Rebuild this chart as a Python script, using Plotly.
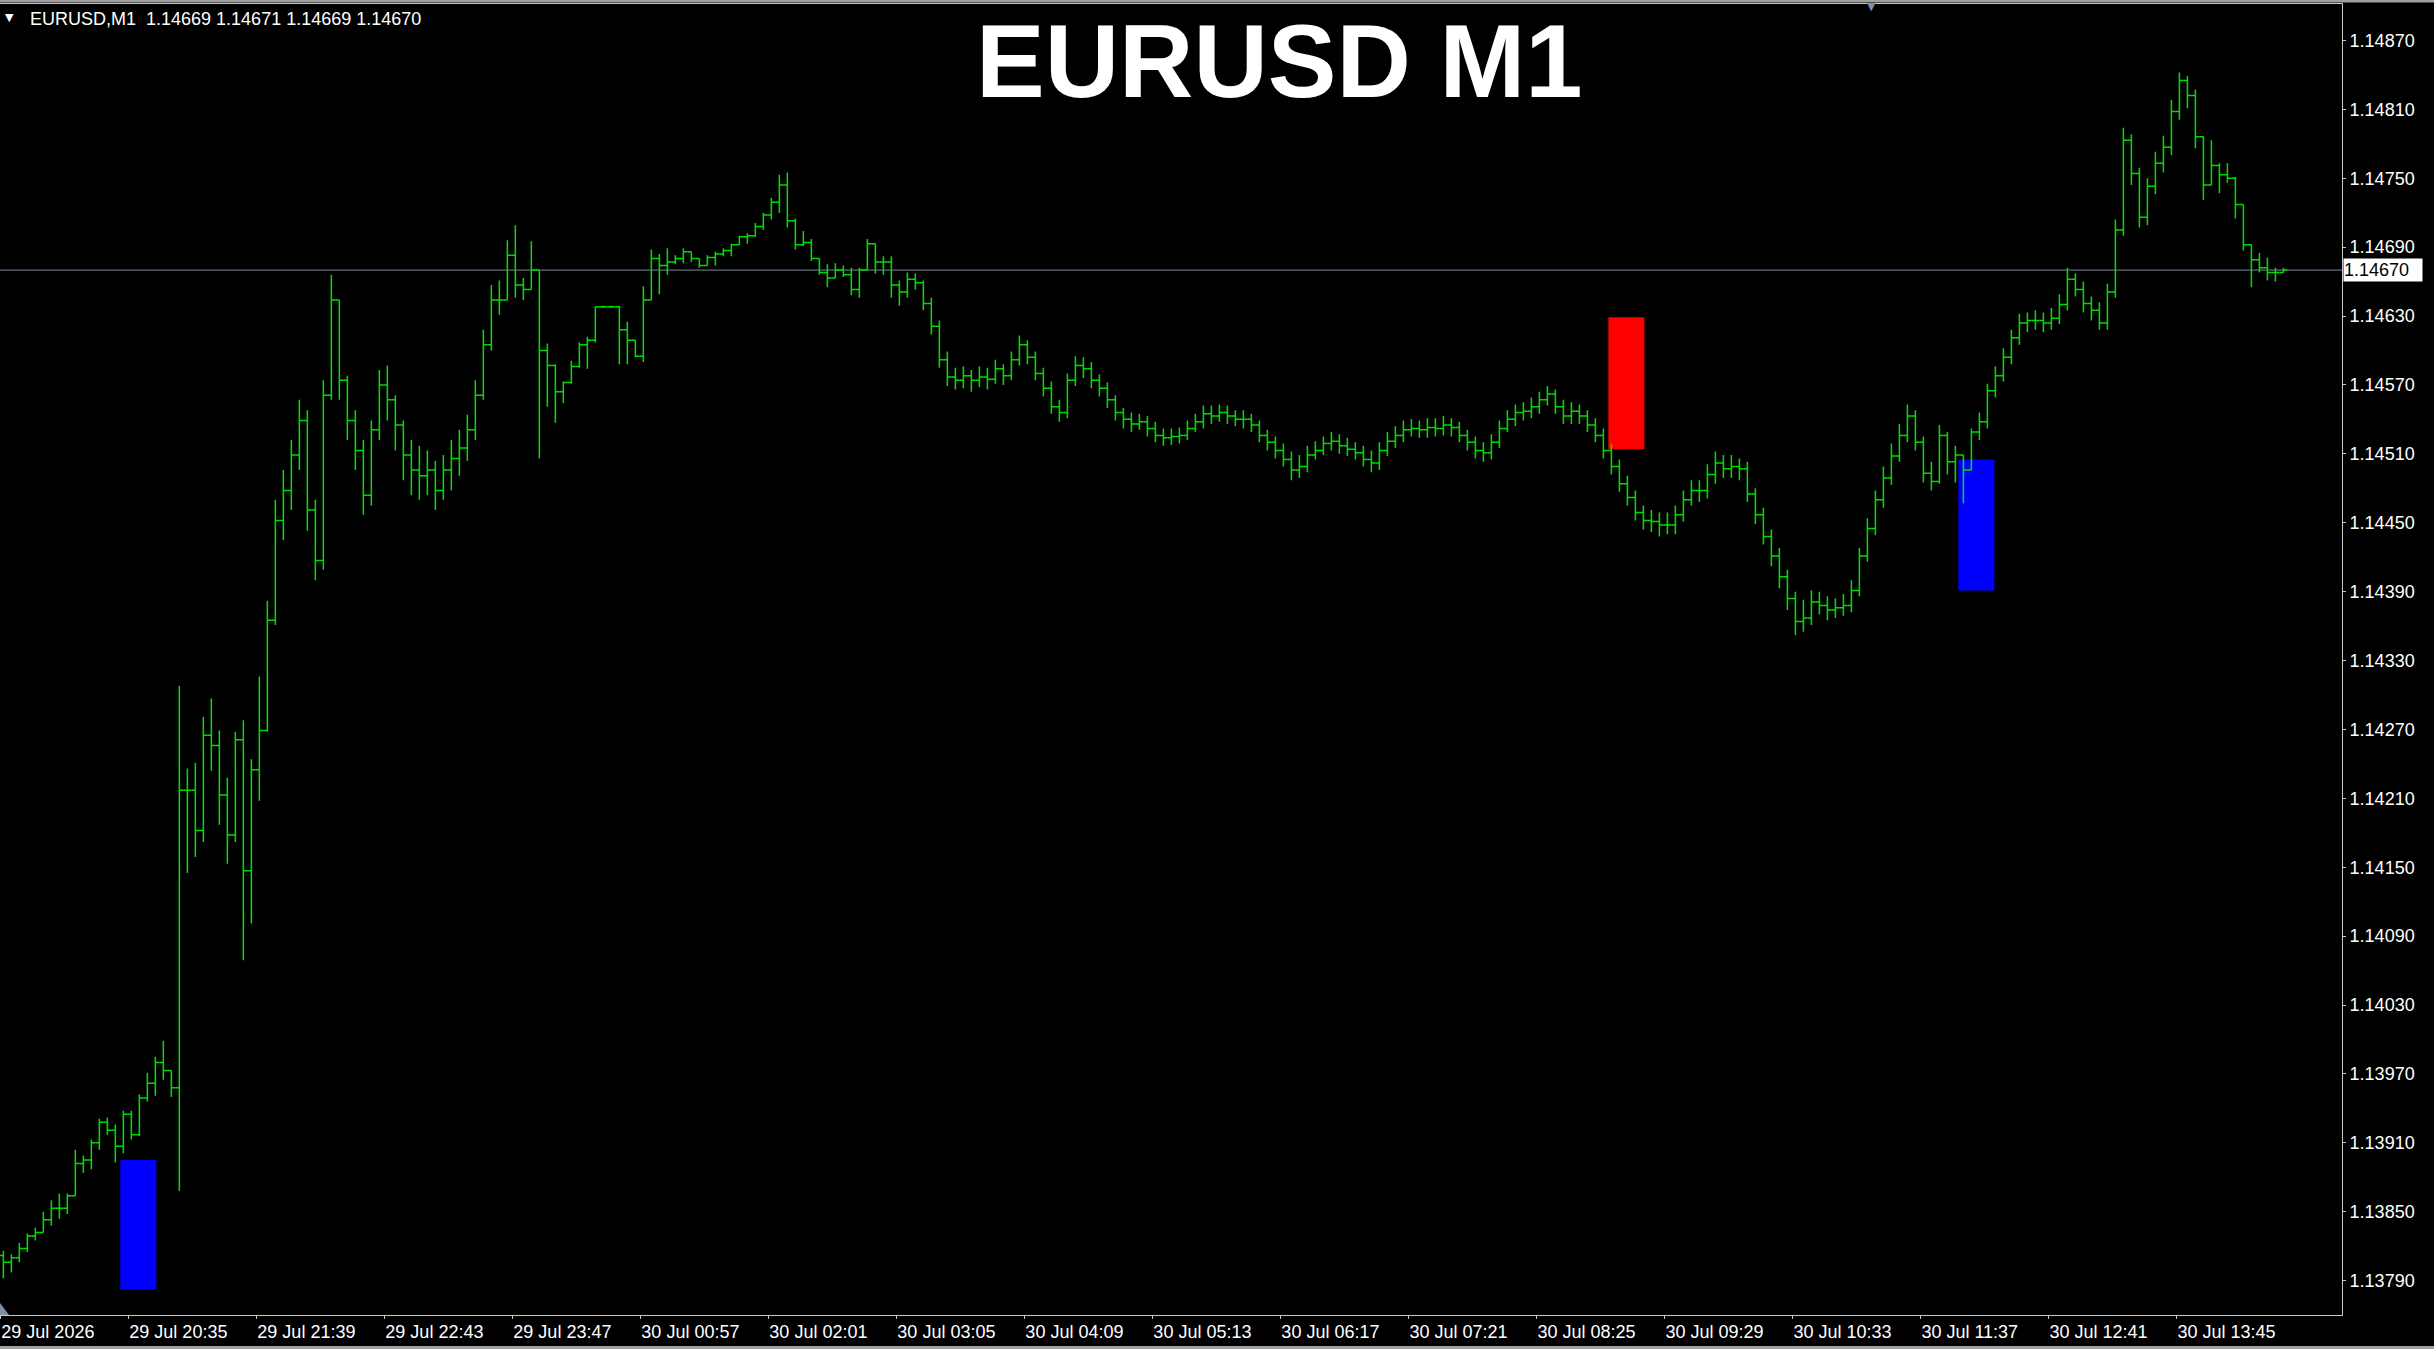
import plotly.graph_objects as go

# ---------------- data ----------------
symbol = "EURUSD"
timeframe = "M1"
header_ohlc = ["1.14669", "1.14671", "1.14669", "1.14670"]
last_price = 1.14670
bar_minutes = 4          # each plotted bar aggregates 4 one-minute bars
first_open = 1.13812

close_prices = [
    1.13806, 1.13810, 1.13818, 1.13829, 1.13832, 1.13843, 1.13853, 1.13853, 1.13864, 1.13892,
    1.13895, 1.13910, 1.13928, 1.13921, 1.13907, 1.13935, 1.13917, 1.13949, 1.13962, 1.13980,
    1.13973, 1.13958, 1.14217, 1.14217, 1.14182, 1.14265, 1.14256, 1.14213, 1.14178, 1.14261,
    1.14147, 1.14235, 1.14269, 1.14365, 1.14452, 1.14478, 1.14509, 1.14539, 1.14461, 1.14417,
    1.14561, 1.14644, 1.14574, 1.14539, 1.14513, 1.14474, 1.14531, 1.14570, 1.14557, 1.14535,
    1.14509, 1.14496, 1.14491, 1.14496, 1.14478, 1.14496, 1.14506, 1.14515, 1.14531, 1.14561,
    1.14605, 1.14644, 1.14644, 1.14683, 1.14657, 1.14653, 1.14670, 1.14600, 1.14587, 1.14564,
    1.14572, 1.14586, 1.14605, 1.14609, 1.14638, 1.14638, 1.14638, 1.14618, 1.14609, 1.14595,
    1.14644, 1.14680, 1.14674, 1.14677, 1.14680, 1.14686, 1.14680, 1.14674, 1.14681, 1.14684,
    1.14687, 1.14692, 1.14699, 1.14700, 1.14708, 1.14718, 1.14729, 1.14744, 1.14713, 1.14692,
    1.14694, 1.14680, 1.14668, 1.14663, 1.14670, 1.14666, 1.14653, 1.14670, 1.14693, 1.14677,
    1.14677, 1.14657, 1.14651, 1.14662, 1.14659, 1.14641, 1.14621, 1.14592, 1.14577, 1.14574,
    1.14578, 1.14574, 1.14577, 1.14575, 1.14584, 1.14578, 1.14592, 1.14605, 1.14594, 1.14580,
    1.14567, 1.14551, 1.14546, 1.14574, 1.14587, 1.14584, 1.14574, 1.14567, 1.14557, 1.14546,
    1.14540, 1.14536, 1.14538, 1.14532, 1.14526, 1.14524, 1.14525, 1.14526, 1.14532, 1.14538,
    1.14545, 1.14543, 1.14546, 1.14543, 1.14540, 1.14540, 1.14535, 1.14526, 1.14520, 1.14513,
    1.14505, 1.14496, 1.14499, 1.14509, 1.14513, 1.14519, 1.14521, 1.14517, 1.14514, 1.14511,
    1.14505, 1.14502, 1.14513, 1.14521, 1.14526, 1.14531, 1.14532, 1.14531, 1.14533, 1.14532,
    1.14535, 1.14533, 1.14526, 1.14520, 1.14513, 1.14511, 1.14520, 1.14532, 1.14540, 1.14546,
    1.14547, 1.14551, 1.14557, 1.14562, 1.14551, 1.14543, 1.14547, 1.14543, 1.14535, 1.14526,
    1.14513, 1.14499, 1.14484, 1.14472, 1.14459, 1.14452, 1.14451, 1.14448, 1.14448, 1.14457,
    1.14470, 1.14478, 1.14478, 1.14492, 1.14502, 1.14497, 1.14499, 1.14497, 1.14475, 1.14457,
    1.14438, 1.14421, 1.14403, 1.14384, 1.14364, 1.14367, 1.14381, 1.14378, 1.14374, 1.14376,
    1.14378, 1.14391, 1.14421, 1.14445, 1.14470, 1.14489, 1.14508, 1.14526, 1.14543, 1.14520,
    1.14493, 1.14486, 1.14526, 1.14503, 1.14509, 1.14496, 1.14529, 1.14538, 1.14565, 1.14578,
    1.14594, 1.14611, 1.14624, 1.14626, 1.14626, 1.14624, 1.14628, 1.14640, 1.14662, 1.14653,
    1.14641, 1.14635, 1.14624, 1.14651, 1.14705, 1.14783, 1.14754, 1.14716, 1.14743, 1.14763,
    1.14777, 1.14808, 1.14835, 1.14822, 1.14786, 1.14744, 1.14761, 1.14753, 1.14750, 1.14727,
    1.14692, 1.14679, 1.14672, 1.14668, 1.14668, 1.14670,
]

high_prices = [
    1.13816, 1.13813, 1.13823, 1.13831, 1.13836, 1.13850, 1.13860, 1.13866, 1.13866, 1.13904,
    1.13899, 1.13913, 1.13931, 1.13932, 1.13926, 1.13938, 1.13938, 1.13952, 1.13971, 1.13985,
    1.13999, 1.13973, 1.14308, 1.14236, 1.14241, 1.14281, 1.14297, 1.14269, 1.14228, 1.14268,
    1.14278, 1.14244, 1.14316, 1.14382, 1.14470, 1.14496, 1.14522, 1.14557, 1.14548, 1.14470,
    1.14574, 1.14666, 1.14644, 1.14578, 1.14548, 1.14522, 1.14539, 1.14583, 1.14587, 1.14561,
    1.14539, 1.14522, 1.14517, 1.14513, 1.14504, 1.14509, 1.14522, 1.14531, 1.14544, 1.14574,
    1.14618, 1.14657, 1.14661, 1.14696, 1.14709, 1.14663, 1.14695, 1.14670, 1.14606, 1.14588,
    1.14573, 1.14591, 1.14607, 1.14612, 1.14638, 1.14639, 1.14639, 1.14639, 1.14625, 1.14609,
    1.14656, 1.14688, 1.14684, 1.14689, 1.14683, 1.14689, 1.14686, 1.14680, 1.14683, 1.14686,
    1.14689, 1.14693, 1.14700, 1.14702, 1.14711, 1.14720, 1.14733, 1.14753, 1.14755, 1.14715,
    1.14704, 1.14697, 1.14680, 1.14675, 1.14676, 1.14674, 1.14672, 1.14672, 1.14697, 1.14693,
    1.14682, 1.14682, 1.14661, 1.14668, 1.14667, 1.14661, 1.14646, 1.14626, 1.14599, 1.14585,
    1.14586, 1.14583, 1.14586, 1.14585, 1.14592, 1.14588, 1.14599, 1.14613, 1.14609, 1.14599,
    1.14585, 1.14573, 1.14557, 1.14580, 1.14595, 1.14594, 1.14590, 1.14579, 1.14572, 1.14561,
    1.14550, 1.14546, 1.14545, 1.14543, 1.14538, 1.14532, 1.14532, 1.14533, 1.14539, 1.14545,
    1.14552, 1.14552, 1.14553, 1.14552, 1.14548, 1.14548, 1.14545, 1.14539, 1.14531, 1.14525,
    1.14519, 1.14512, 1.14509, 1.14517, 1.14521, 1.14525, 1.14529, 1.14527, 1.14524, 1.14520,
    1.14517, 1.14513, 1.14520, 1.14529, 1.14534, 1.14539, 1.14540, 1.14539, 1.14541, 1.14541,
    1.14543, 1.14541, 1.14538, 1.14531, 1.14525, 1.14520, 1.14527, 1.14539, 1.14548, 1.14553,
    1.14555, 1.14559, 1.14564, 1.14569, 1.14566, 1.14557, 1.14555, 1.14553, 1.14548, 1.14541,
    1.14532, 1.14519, 1.14505, 1.14491, 1.14478, 1.14465, 1.14461, 1.14459, 1.14459, 1.14465,
    1.14478, 1.14487, 1.14487, 1.14501, 1.14512, 1.14509, 1.14509, 1.14506, 1.14503, 1.14480,
    1.14463, 1.14444, 1.14428, 1.14409, 1.14390, 1.14383, 1.14391, 1.14390, 1.14386, 1.14384,
    1.14388, 1.14400, 1.14428, 1.14454, 1.14478, 1.14499, 1.14519, 1.14536, 1.14553, 1.14548,
    1.14525, 1.14503, 1.14535, 1.14529, 1.14517, 1.14509, 1.14532, 1.14546, 1.14571, 1.14586,
    1.14602, 1.14618, 1.14632, 1.14633, 1.14635, 1.14633, 1.14637, 1.14649, 1.14672, 1.14667,
    1.14660, 1.14647, 1.14642, 1.14658, 1.14714, 1.14794, 1.14788, 1.14759, 1.14750, 1.14773,
    1.14787, 1.14818, 1.14842, 1.14839, 1.14827, 1.14786, 1.14783, 1.14763, 1.14763, 1.14751,
    1.14727, 1.14692, 1.14685, 1.14681, 1.14672, 1.14672,
]

low_prices = [
    1.13792, 1.13797, 1.13806, 1.13815, 1.13825, 1.13832, 1.13838, 1.13844, 1.13848, 1.13864,
    1.13884, 1.13887, 1.13904, 1.13917, 1.13893, 1.13901, 1.13913, 1.13916, 1.13946, 1.13951,
    1.13965, 1.13950, 1.13868, 1.14145, 1.14159, 1.14172, 1.14234, 1.14187, 1.14153, 1.14172,
    1.14069, 1.14101, 1.14208, 1.14268, 1.14361, 1.14435, 1.14461, 1.14496, 1.14443, 1.14400,
    1.14409, 1.14557, 1.14557, 1.14522, 1.14496, 1.14457, 1.14465, 1.14522, 1.14539, 1.14513,
    1.14487, 1.14474, 1.14470, 1.14474, 1.14461, 1.14470, 1.14478, 1.14491, 1.14504, 1.14522,
    1.14557, 1.14600, 1.14631, 1.14644, 1.14646, 1.14644, 1.14653, 1.14506, 1.14551, 1.14537,
    1.14554, 1.14571, 1.14585, 1.14584, 1.14607, 1.14637, 1.14637, 1.14588, 1.14588, 1.14594,
    1.14590, 1.14644, 1.14649, 1.14666, 1.14675, 1.14676, 1.14677, 1.14672, 1.14674, 1.14674,
    1.14682, 1.14682, 1.14692, 1.14693, 1.14699, 1.14705, 1.14714, 1.14720, 1.14707, 1.14688,
    1.14691, 1.14678, 1.14666, 1.14655, 1.14663, 1.14664, 1.14648, 1.14646, 1.14670, 1.14667,
    1.14666, 1.14646, 1.14639, 1.14646, 1.14653, 1.14635, 1.14614, 1.14585, 1.14569, 1.14566,
    1.14567, 1.14564, 1.14568, 1.14566, 1.14571, 1.14570, 1.14574, 1.14587, 1.14588, 1.14574,
    1.14560, 1.14545, 1.14538, 1.14541, 1.14569, 1.14576, 1.14567, 1.14560, 1.14550, 1.14539,
    1.14532, 1.14529, 1.14531, 1.14525, 1.14520, 1.14517, 1.14518, 1.14519, 1.14522, 1.14529,
    1.14532, 1.14536, 1.14538, 1.14536, 1.14534, 1.14532, 1.14529, 1.14520, 1.14513, 1.14506,
    1.14499, 1.14487, 1.14489, 1.14494, 1.14505, 1.14509, 1.14513, 1.14510, 1.14508, 1.14505,
    1.14499, 1.14494, 1.14496, 1.14508, 1.14515, 1.14520, 1.14525, 1.14524, 1.14524, 1.14525,
    1.14526, 1.14525, 1.14520, 1.14513, 1.14506, 1.14503, 1.14505, 1.14515, 1.14529, 1.14534,
    1.14539, 1.14541, 1.14545, 1.14552, 1.14545, 1.14536, 1.14536, 1.14536, 1.14529, 1.14520,
    1.14506, 1.14492, 1.14477, 1.14465, 1.14452, 1.14444, 1.14442, 1.14438, 1.14440, 1.14440,
    1.14451, 1.14465, 1.14468, 1.14471, 1.14484, 1.14489, 1.14489, 1.14487, 1.14468, 1.14449,
    1.14431, 1.14412, 1.14393, 1.14374, 1.14352, 1.14355, 1.14361, 1.14370, 1.14365, 1.14367,
    1.14369, 1.14372, 1.14386, 1.14416, 1.14439, 1.14463, 1.14483, 1.14503, 1.14520, 1.14513,
    1.14485, 1.14478, 1.14484, 1.14492, 1.14485, 1.14467, 1.14496, 1.14522, 1.14532, 1.14559,
    1.14573, 1.14588, 1.14605, 1.14616, 1.14618, 1.14616, 1.14618, 1.14623, 1.14635, 1.14647,
    1.14633, 1.14626, 1.14618, 1.14618, 1.14646, 1.14700, 1.14744, 1.14707, 1.14709, 1.14736,
    1.14755, 1.14770, 1.14801, 1.14811, 1.14776, 1.14731, 1.14744, 1.14737, 1.14746, 1.14715,
    1.14687, 1.14655, 1.14668, 1.14661, 1.14660, 1.14668,
]

# time-axis labels (one every 64 one-minute bars)
x_tick_labels = [
    "29 Jul 2026", "29 Jul 20:35", "29 Jul 21:39", "29 Jul 22:43", "29 Jul 23:47",
    "30 Jul 00:57", "30 Jul 02:01", "30 Jul 03:05", "30 Jul 04:09", "30 Jul 05:13",
    "30 Jul 06:17", "30 Jul 07:21", "30 Jul 08:25", "30 Jul 09:29", "30 Jul 10:33",
    "30 Jul 11:37", "30 Jul 12:41", "30 Jul 13:45",
]
x_tick_step_minutes = 64

y_tick_labels = [
    "1.13790", "1.13850", "1.13910", "1.13970", "1.14030", "1.14090", "1.14150",
    "1.14210", "1.14270", "1.14330", "1.14390", "1.14450", "1.14510", "1.14570",
    "1.14630", "1.14690", "1.14750", "1.14810", "1.14870",
]

# rectangle objects on the chart: (start minute, end minute, low price, high price, colour)
rect_start_min = [60, 804, 979]
rect_end_min = [78, 822, 997]
rect_low = [1.13782, 1.14514, 1.14391]
rect_high = [1.13895, 1.14629, 1.14505]
rect_colors = ["#0000FF", "#FF0000", "#0000FF"]

# ---------------- figure ----------------
W, H = 2434, 1349
ML, MR, MT, MB = 0, 92, 4, 34
PLOT_W = W - ML - MR
PLOT_H = H - MT - MB

open_prices = [first_open] + close_prices[:-1]
bar_x = [k * bar_minutes + (bar_minutes - 1) / 2 for k in range(len(close_prices))]

BAR_GREEN = "#00E000"
AXIS_COL = "#c8c8c8"
FONT = "Liberation Sans"

fig = go.Figure()
fig.add_trace(go.Ohlc(
    x=bar_x, open=open_prices, high=high_prices, low=low_prices, close=close_prices,
    increasing=dict(line=dict(color=BAR_GREEN, width=1.5)),
    decreasing=dict(line=dict(color=BAR_GREEN, width=1.5)),
    tickwidth=0.5, hoverinfo="skip", showlegend=False,
))

shapes = []
for x0, x1, y0, y1, c in zip(rect_start_min, rect_end_min, rect_low, rect_high, rect_colors):
    shapes.append(dict(type="rect", xref="x", yref="y", x0=x0, x1=x1, y0=y0, y1=y1,
                       fillcolor=c, line=dict(width=0), layer="below"))
# current price line
shapes.append(dict(type="line", xref="paper", yref="y", x0=0, x1=1, y0=last_price, y1=last_price,
                   line=dict(color="#778899", width=1), layer="below"))


def py(pix):
    return (H - MB - pix) / PLOT_H


# window borders (top gray band and bottom gray line)
shapes.append(dict(type="rect", xref="paper", yref="paper", x0=0, x1=W / PLOT_W,
                   y0=py(2.5), y1=py(0), fillcolor="#a0a0a0", line=dict(width=0)))
shapes.append(dict(type="rect", xref="paper", yref="paper", x0=0, x1=W / PLOT_W,
                   y0=py(H), y1=py(H - 3), fillcolor="#a0a0a0", line=dict(width=0)))
# small gray scroll marker bottom-left
shapes.append(dict(type="path", xref="paper", yref="paper",
                   path=f"M 0 {py(1315)} L {9 / PLOT_W} {py(1315)} L 0 {py(1303)} Z",
                   fillcolor="#8090a0", line=dict(width=0)))

annotations = [
    # big title
    dict(text=f"<b>{symbol} {timeframe}</b>", xref="paper", yref="paper",
         x=1279 / PLOT_W, y=py(62), xanchor="center", yanchor="middle", showarrow=False,
         font=dict(family=FONT, size=103, color="white")),
    # header line
    dict(text=f"{symbol},{timeframe}\u00a0\u00a0" + " ".join(header_ohlc), xref="paper", yref="paper",
         x=28 / PLOT_W, y=py(19), xanchor="left", yanchor="middle", showarrow=False,
         font=dict(family=FONT, size=18, color="white")),
    dict(text="▼", xref="paper", yref="paper", x=9 / PLOT_W, y=py(18), xanchor="center",
         yanchor="middle", showarrow=False, font=dict(family="DejaVu Sans", size=11, color="white")),
    dict(text="▼", xref="paper", yref="paper", x=1871 / PLOT_W, y=py(7), xanchor="center",
         yanchor="middle", showarrow=False, font=dict(family="DejaVu Sans", size=11, color="#8090a0")),
    # current price label
    dict(text=f"{last_price:.5f}", xref="paper", yref="y", x=1, y=last_price, xanchor="left",
         yanchor="middle", xshift=1, showarrow=False, bgcolor="white", width=78, height=22,
         align="left", borderpad=0, font=dict(family=FONT, size=18, color="black")),
]

y_min_price = 1.137601
y_max_price = 1.149017
x_min = -0.17
x_max = 1170.8

fig.update_layout(
    width=W, height=H,
    margin=dict(l=ML, r=MR, t=MT, b=MB, pad=0),
    paper_bgcolor="black", plot_bgcolor="black",
    showlegend=False, shapes=shapes, annotations=annotations,
    xaxis=dict(
        range=[x_min, x_max], rangeslider=dict(visible=False),
        tickvals=[i * x_tick_step_minutes for i in range(len(x_tick_labels))],
        ticktext=x_tick_labels, ticks="outside", ticklen=3, tickcolor=AXIS_COL,
        ticklabelposition="outside right",
        showline=True, linecolor=AXIS_COL, linewidth=1, mirror=True,
        showgrid=False, zeroline=False,
        tickfont=dict(family=FONT, size=18, color="white"),
    ),
    yaxis=dict(
        side="right", range=[y_min_price, y_max_price],
        tickvals=[float(t) for t in y_tick_labels], ticktext=y_tick_labels,
        ticks="outside", ticklen=3, tickcolor=AXIS_COL,
        showline=True, linecolor=AXIS_COL, linewidth=1,
        showgrid=False, zeroline=False,
        tickfont=dict(family=FONT, size=18, color="white"),
    ),
    hovermode=False,
)

fig.write_html(
    "out.html",
    config={"displayModeBar": False, "staticPlot": True},
    post_script="document.body.style.margin='0px';document.body.style.background='black';",
)
